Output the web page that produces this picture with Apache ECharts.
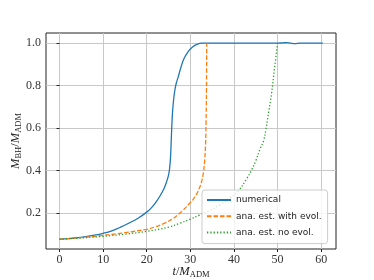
<!DOCTYPE html>
<html>
<head>
<meta charset="utf-8">
<script src="https://cdn.jsdelivr.net/npm/echarts@6/dist/echarts.min.js"></script>
<style>html,body{margin:0;padding:0;background:#fff;}#c{width:374px;height:280px;}</style>
</head>
<body>
<div id="c"></div>
<script>
const xTicks = [0, 10, 20, 30, 40, 50, 60];
const yTicks = [0.2, 0.4, 0.6, 0.8, 1.0];

const tNum = [0, 2, 4, 6, 8, 10, 12, 14, 16, 18, 20, 21, 22, 23, 24, 24.5, 25, 25.25, 25.45, 25.6, 25.75, 25.9, 26.1, 26.35, 26.7, 27.2, 27.9, 28.5, 29.5, 30.5, 31.5, 32.5, 35, 40, 45, 50, 51, 52, 53, 54, 55, 56, 58, 60.4];
const mNum = [0.075, 0.078, 0.082, 0.087, 0.094, 0.103, 0.115, 0.132, 0.152, 0.174, 0.203, 0.222, 0.247, 0.278, 0.316, 0.343, 0.378, 0.41, 0.46, 0.53, 0.61, 0.67, 0.72, 0.765, 0.805, 0.84, 0.89, 0.925, 0.96, 0.982, 0.994, 1.0, 1.0, 1.0, 1.0, 1.0, 1.001, 1.003, 1.0, 0.998, 1.0, 1.0, 1.0, 1.0];

const tEvol = [0, 5, 10, 15, 20, 22, 24, 26, 27.55, 28.5, 29.85, 30.6, 31.5, 32.15, 32.5, 33.0, 33.3, 33.5, 33.6, 33.7, 33.75];
const mEvol = [0.075, 0.083, 0.093, 0.106, 0.122, 0.134, 0.150, 0.172, 0.198, 0.215, 0.245, 0.262, 0.29, 0.32, 0.34, 0.39, 0.45, 0.53, 0.62, 0.78, 1.0];

const tNoEvol = [0, 5, 10, 15, 20, 25, 27.55, 30, 32.1, 34.5, 36.7, 39, 40.9, 42.9, 44.0, 45.0, 45.9, 46.8, 47.3, 48.0, 48.6, 49.3, 50.0];
const mNoEvol = [0.075, 0.081, 0.089, 0.099, 0.112, 0.132, 0.150, 0.170, 0.189, 0.21, 0.236, 0.27, 0.30, 0.36, 0.40, 0.445, 0.496, 0.54, 0.59, 0.68, 0.76, 0.88, 1.0];

const seriesNames = ['numerical', 'ana. est. with evol.', 'ana. est. no evol.'];

function pairs(t, m) { return t.map((v, i) => [v, m[i]]); }

const serif = '"Liberation Serif", "DejaVu Serif", serif';
const chart = echarts.init(document.getElementById('c'), null, {renderer: 'canvas'});
const rich = {
  i: {fontFamily: serif, fontStyle: 'italic', fontSize: 12.5, lineHeight: 15, color: '#222'},
  n: {fontFamily: serif, fontSize: 12.5, lineHeight: 15, color: '#222'},
  s: {fontFamily: serif, fontSize: 8.5, lineHeight: 9, verticalAlign: 'bottom', color: '#222'}
};
chart.setOption({
  animation: false,
  backgroundColor: '#fff',
  grid: {left: 46, top: 33, width: 290, height: 216, outerBoundsMode: 'none', containLabel: false,
         show: true, borderColor: '#222', borderWidth: 1, backgroundColor: 'transparent'},
  xAxis: {
    type: 'value', min: -3.1, max: 63.4,
    name: '{i|t}{n|/}{i|M}{s|ADM}', nameLocation: 'middle', nameGap: 15, nameMoveOverlap: false,
    nameTextStyle: {rich: rich, verticalAlign: 'top'},
    axisLine: {show: false},
    axisTick: {show: true, inside: false, length: 3, customValues: xTicks, lineStyle: {color: '#222', width: 1}},
    axisLabel: {customValues: xTicks, fontFamily: serif, fontSize: 12, color: '#333', margin: 5, formatter: v => String(v)},
    splitLine: {show: true, lineStyle: {color: '#c8c8c8', width: 1}}
  },
  yAxis: {
    type: 'value', min: 0.029, max: 1.048,
    name: '{i|M}{s|BH}{n|/}{i|M}{s|ADM}', nameLocation: 'middle', nameGap: 23, nameRotate: 90, nameMoveOverlap: false,
    nameTextStyle: {rich: rich},
    axisLine: {show: false},
    axisTick: {show: true, inside: false, length: 3, customValues: yTicks, lineStyle: {color: '#222', width: 1}},
    axisLabel: {customValues: yTicks, fontFamily: serif, fontSize: 12, color: '#333', margin: 5, formatter: v => v.toFixed(1)},
    splitLine: {show: true, lineStyle: {color: '#c8c8c8', width: 1}}
  },
  legend: {
    orient: 'vertical', left: 202, top: 190,
    padding: [5, 6, 6, 4],
    itemWidth: 24, itemHeight: 10, itemGap: 6.3, itemTextGap: 8,
    itemStyle: {opacity: 0},
    backgroundColor: 'rgba(255,255,255,0.8)', borderColor: '#cccccc', borderWidth: 1, borderRadius: 3,
    textStyle: {fontFamily: '"DejaVu Sans", sans-serif', fontSize: 9, color: '#222', lineHeight: 10},
    data: seriesNames
  },
  series: [
    {name: seriesNames[0], type: 'line', data: pairs(tNum, mNum), showSymbol: false, symbol: 'none', smooth: 0.4,
     lineStyle: {color: '#1f77b4', width: 1.3}, itemStyle: {color: '#1f77b4'}},
    {name: seriesNames[1], type: 'line', data: pairs(tEvol, mEvol), showSymbol: false, symbol: 'none', smooth: 0.4,
     lineStyle: {color: '#ff7f0e', width: 1.3, type: [4.5, 2]}, itemStyle: {color: '#ff7f0e'}},
    {name: seriesNames[2], type: 'line', data: pairs(tNoEvol, mNoEvol), showSymbol: false, symbol: 'none', smooth: 0.4,
     lineStyle: {color: '#2ca02c', width: 1.3, type: [1.3, 2]}, itemStyle: {color: '#2ca02c'}}
  ]
});
</script>
</body>
</html>
